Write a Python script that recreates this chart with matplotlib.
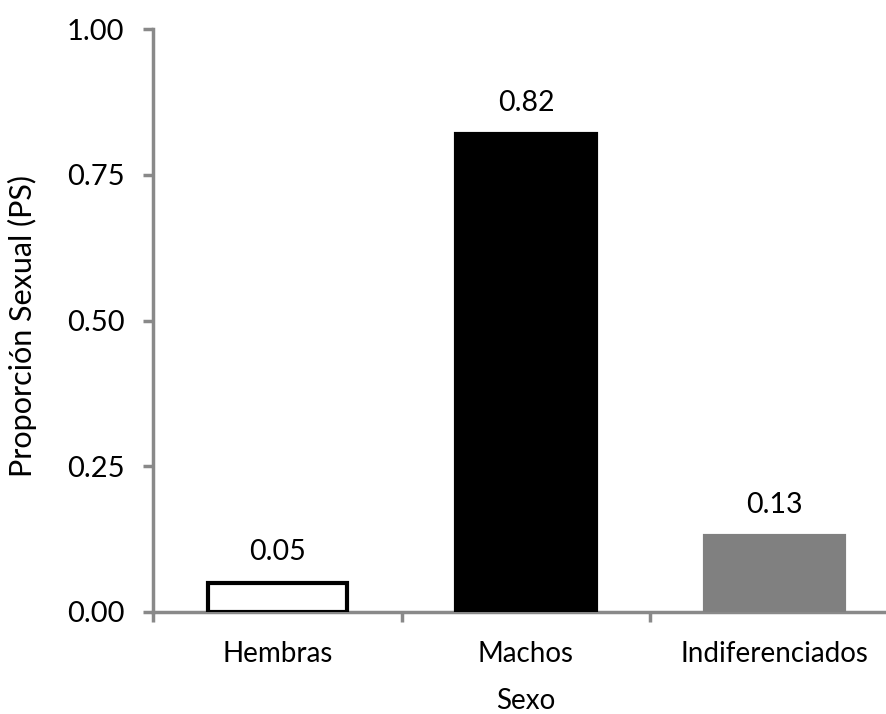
import matplotlib.pyplot as plt
import numpy as np

categorias = ['Hembras', 'Machos', 'Indiferenciados']
proporcion = [0.05, 0.82, 0.13]
etiquetas = ['0.05', '0.82', '0.13']
colores = ['white', 'black', '#808080']
bordes = ['black', 'black', '#808080']

plt.rcParams['font.family'] = ['Lato', 'DejaVu Sans']
gris = '#898989'

fig = plt.figure(figsize=(8.86, 7.14), dpi=100)
ax = fig.add_axes([153/886, 102/714, 746/886, 583/714])

x = np.arange(len(categorias))
bars = ax.bar(x, proporcion, width=0.56, color=colores, edgecolor=bordes,
              linewidth=3, zorder=3)
for b, t in zip(bars, etiquetas):
    ax.annotate(t, (b.get_x() + b.get_width() / 2, b.get_height()),
                xytext=(0, 13), textcoords='offset points',
                ha='center', va='bottom', fontsize=20.5)

ax.set_xlim(-0.5, 2.5)
ax.set_ylim(0, 1.0)
ax.set_yticks([0, 0.25, 0.5, 0.75, 1.0])
ax.set_yticklabels(['0.00', '0.25', '0.50', '0.75', '1.00'])
ax.set_xticks(x)
ax.set_xticklabels(categorias)
ax.set_xticks([-0.5, 0.5, 1.5, 2.5], minor=True)

for s in ['top', 'right']:
    ax.spines[s].set_visible(False)
for s in ['left', 'bottom']:
    ax.spines[s].set_color(gris)
    ax.spines[s].set_linewidth(2.5)

ax.tick_params(axis='y', direction='out', length=7, width=2.5, color=gris,
               labelsize=21, pad=13.5)
ax.tick_params(axis='x', which='major', length=0, labelsize=20, pad=21)
ax.tick_params(axis='x', which='minor', direction='out', length=7, width=2.5,
               color=gris)

ax.set_ylabel('Proporción Sexual (PS)', fontsize=22)
ax.yaxis.set_label_coords(-0.155, 0.49)
ax.set_xlabel('Sexo', fontsize=20, labelpad=15)

fig.savefig('out.png', dpi=100)
